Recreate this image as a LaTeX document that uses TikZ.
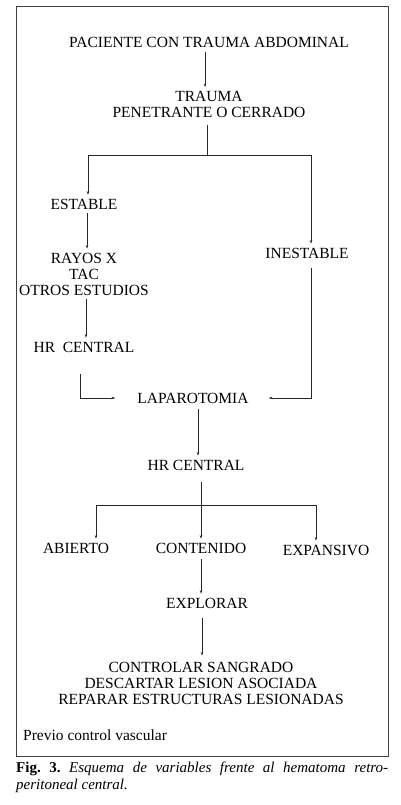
\documentclass[tikz,border=0pt]{standalone}
\usepackage{fontspec}
\setmainfont{Liberation Serif}
\usetikzlibrary{arrows.meta}
\frenchspacing
\begin{document}
\begin{tikzpicture}[x=1pt,y=-1pt,
  lbl/.style={font=\fontsize{15.5}{16}\selectfont, align=center, inner sep=4pt},
  ln/.style={line width=0.5pt, draw=black!85},
  arr/.style={ln, -{Stealth[length=3.5pt,width=2.5pt]}}]
\useasboundingbox (0,0) rectangle (401,805);
\draw[line width=1pt, draw=black!75] (16,7) rectangle (388,756);
% nodes
\node[lbl] (pac) at (209,42) {PACIENTE CON TRAUMA ABDOMINAL};
\node[lbl] (trauma) at (209,104.5) {TRAUMA\\PENETRANTE O CERRADO};
\node[lbl] (estable) at (84,204) {ESTABLE};
\node[lbl] (rayos) at (84,274) {RAYOS X\\TAC\\OTROS ESTUDIOS};
\node[lbl] (inestable) at (307,253) {INESTABLE};
\node[lbl] (hrl) at (84,347) {HR\ \ CENTRAL};
\node[lbl] (lap) at (193,398) {LAPAROTOMIA};
\node[lbl] (hrc) at (196,465) {HR CENTRAL};
\node[lbl] (abierto) at (76,548) {ABIERTO};
\node[lbl] (contenido) at (201,548) {CONTENIDO};
\node[lbl] (expansivo) at (326,550) {EXPANSIVO};
\node[lbl] (explorar) at (207,603) {EXPLORAR};
\node[lbl] (controlar) at (201,683) {CONTROLAR SANGRADO\\DESCARTAR LESION ASOCIADA\\REPARAR ESTRUCTURAS LESIONADAS};
\node[lbl, anchor=west] (previo) at (19,735) {Previo control vascular};
\node[font=\fontsize{15}{17}\selectfont, text width=372pt, align=justify, inner sep=0pt, anchor=north west] (caption) at (16,762)
  {\textbf{Fig.~3.} \textit{Esquema de variables frente al hematoma retro-\linebreak peritoneal central.}};
% coordinates
\coordinate (s1) at (207,155);
\coordinate (s2) at (201,505);
% connectors
\draw[arr, shorten <=1pt] ([xshift=-4pt]pac.south) -- ([xshift=-4pt]trauma.north);
\draw[ln, shorten <=3pt] (trauma.south -| s1) -- (s1);
\draw[arr] (s1) -| ([xshift=4pt]estable.north);
\draw[arr] (s1) -| ([xshift=4pt]inestable.north);
\draw[arr] ([xshift=3pt]estable.south) -- ([xshift=3pt]rayos.north);
\draw[arr] ([xshift=2pt]rayos.south) -- ([xshift=2pt]hrl.north);
\draw[arr, shorten <=18pt, shorten >=18pt] ([xshift=-4pt]hrl.south) |- (lap.west);
\draw[arr, shorten <=6pt, shorten >=16pt] ([xshift=4pt]inestable.south) |- (lap.east);
\draw[arr, shorten <=2pt] ([xshift=5pt]lap.south) -- ([xshift=2pt]hrc.north);
\draw[ln, shorten <=8pt] (hrc.south -| s2) -- (s2);
\draw[arr] (s2) -| ([xshift=20pt]abierto.north);
\draw[arr] (s2) -- (contenido.north);
\draw[arr] (s2) -| ([xshift=-10pt]expansivo.north);
\draw[arr, shorten <=2pt] (contenido.south) -- (contenido.south |- explorar.north);
\draw[arr, shorten <=6pt, shorten >=2pt] ([xshift=-5pt]explorar.south) -- ([xshift=-5pt]explorar.south |- controlar.north);
\end{tikzpicture}
\end{document}
